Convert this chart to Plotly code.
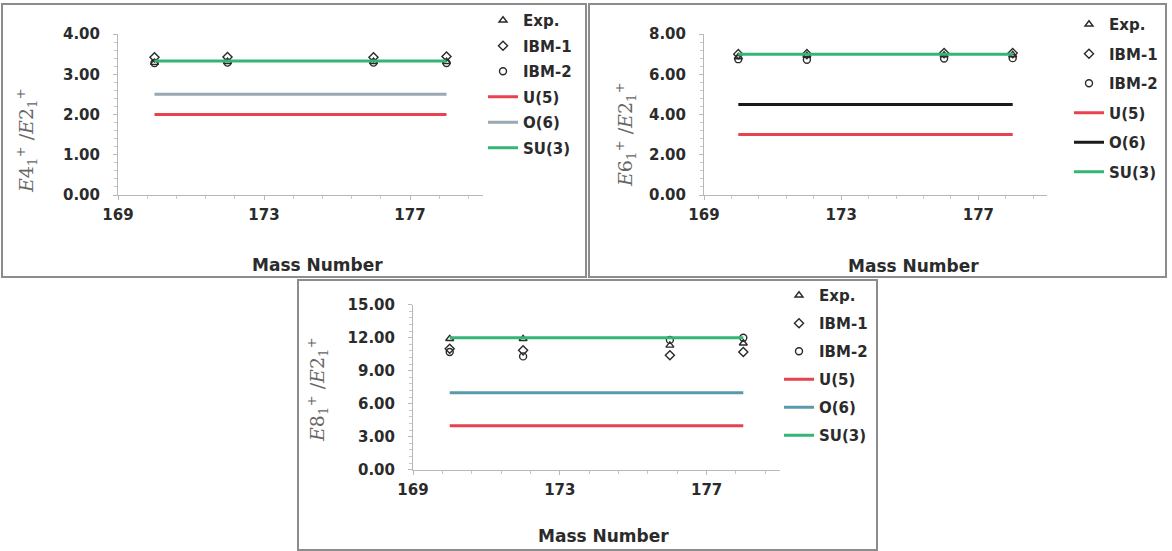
import plotly.graph_objects as go

# Mass numbers of the isotopes
mass = [170, 172, 176, 178]
limit_x = [170, 178]

# E4/E2 ratios
exp_r4 = [3.29, 3.31, 3.31, 3.31]
ibm1_r4 = [3.42, 3.43, 3.42, 3.44]
ibm2_r4 = [3.28, 3.29, 3.29, 3.28]
limits_r4 = {"U(5)": 2.0, "O(6)": 2.5, "SU(3)": 3.33}

# E6/E2 ratios
exp_r6 = [6.86, 6.93, 6.95, 6.96]
ibm1_r6 = [7.00, 7.00, 7.05, 7.05]
ibm2_r6 = [6.75, 6.72, 6.78, 6.80]
limits_r6 = {"U(5)": 3.0, "O(6)": 4.5, "SU(3)": 7.0}

# E8/E2 ratios
exp_r8 = [11.9, 11.9, 11.3, 11.5]
ibm1_r8 = [11.0, 10.85, 10.4, 10.7]
ibm2_r8 = [10.7, 10.3, 11.8, 12.0]
limits_r8 = {"U(5)": 4.0, "O(6)": 7.0, "SU(3)": 12.0}

W, H = 1172, 551
FONT = "DejaVu Sans"
TXT = "#2b2b2b"


def px(x):
    return x / W


def py(y):
    return 1 - y / H


fig = go.Figure()

panels = [
    dict(ax="", leg="legend", exp=exp_r4, i1=ibm1_r4, i2=ibm2_r4, lim=limits_r4,
         o6="#9aa8b1", ymax=4, dt=1, title="<i>E</i>4<sub>1</sub><sup>+</sup> /<i>E</i>2<sub>1</sub><sup>+</sup>",
         xd=[118, 483], yd=[195, 34], ytit=(26, 141), xtit=(317, 265), legpos=(483, 4), gap=3),
    dict(ax="2", leg="legend2", exp=exp_r6, i1=ibm1_r6, i2=ibm2_r6, lim=limits_r6,
         o6="#1a1a1a", ymax=8, dt=2, title="<i>E</i>6<sub>1</sub><sup>+</sup> /<i>E</i>2<sub>1</sub><sup>+</sup>",
         xd=[704, 1047], yd=[195, 34], ytit=(625, 135), xtit=(913, 266), legpos=(1069, 8), gap=7),
    dict(ax="3", leg="legend3", exp=exp_r8, i1=ibm1_r8, i2=ibm2_r8, lim=limits_r8,
         o6="#5a9aaa", ymax=15, dt=3, title="<i>E</i>8<sub>1</sub><sup>+</sup> /<i>E</i>2<sub>1</sub><sup>+</sup>",
         xd=[413, 780], yd=[469.7, 304.7], ytit=(317, 390), xtit=(603, 536), legpos=(779, 279), gap=5.5),
]

line_colors = {"U(5)": "#e8414f", "SU(3)": "#33b673"}
mk_color = "#2a2a2a"

annotations = []
for p in panels:
    xa = "x" + p["ax"]
    ya = "y" + p["ax"]
    for name, vals, sym in [("Exp.", p["exp"], "triangle-up-open"),
                            ("IBM-1", p["i1"], "diamond-open"),
                            ("IBM-2", p["i2"], "circle-open")]:
        fig.add_trace(go.Scatter(
            x=mass, y=vals, mode="markers", name=name, xaxis=xa, yaxis=ya,
            legend=p["leg"], legendgroup=p["leg"] + name,
            marker=dict(symbol=sym, size=7, color=mk_color, line=dict(width=1.4, color=mk_color)),
        ))
    for name, v in p["lim"].items():
        col = p["o6"] if name == "O(6)" else line_colors[name]
        fig.add_trace(go.Scatter(
            x=limit_x, y=[v, v], mode="lines", name=name, xaxis=xa, yaxis=ya,
            legend=p["leg"], legendgroup=p["leg"] + name,
            line=dict(color=col, width=3),
        ))

    axis_common = dict(showgrid=False, zeroline=False, showline=True, linecolor="#b8b8b8",
                       linewidth=1, ticks="outside", ticklen=4, tickcolor="#b8b8b8",
                       tickfont=dict(family=FONT, size=15, color=TXT, weight="bold"))
    fig.update_layout(**{
        "xaxis" + p["ax"]: dict(
            domain=[px(p["xd"][0]), px(p["xd"][1])], range=[169, 179],
            tickvals=[169, 173, 177], anchor=ya, ticklabelstandoff=2,
            minor=dict(dtick=0.8, tick0=169, ticks="outside", ticklen=3, tickcolor="#c8c8c8"),
            **axis_common),
        "yaxis" + p["ax"]: dict(
            domain=[py(p["yd"][0]), py(p["yd"][1])], range=[0, p["ymax"]],
            dtick=p["dt"], tick0=0, tickformat=".2f", anchor=xa, ticklabelstandoff=10,
            minor=dict(dtick=p["dt"] / 5, ticks="outside", ticklen=3, tickcolor="#c8c8c8"),
            **axis_common),
        p["leg"]: dict(
            x=px(p["legpos"][0]), y=py(p["legpos"][1]), xanchor="left", yanchor="top",
            bgcolor="rgba(0,0,0,0)", tracegroupgap=p["gap"], itemwidth=30,
            font=dict(family=FONT, size=15, color=TXT, weight="bold")),
    })

    annotations.append(dict(
        text=p["title"], x=px(p["ytit"][0]), y=py(p["ytit"][1]), xref="paper", yref="paper",
        textangle=-90, showarrow=False, xanchor="center", yanchor="middle",
        font=dict(family="DejaVu Serif", size=19, color="#666666")))
    annotations.append(dict(
        text="<b>Mass Number</b>", x=px(p["xtit"][0]), y=py(p["xtit"][1]), xref="paper", yref="paper",
        showarrow=False, xanchor="center", yanchor="middle",
        font=dict(family=FONT, size=17, color=TXT)))

# Frames around each panel
frames = [(2, 4, 586, 277), (589, 4, 1166, 277), (298, 280, 877, 550)]
shapes = [dict(type="rect", xref="paper", yref="paper", x0=px(a), x1=px(c), y0=py(d), y1=py(b),
               line=dict(color="#8c8c8c", width=2), fillcolor="rgba(0,0,0,0)", layer="below")
          for a, b, c, d in frames]

fig.update_layout(
    width=W, height=H, margin=dict(l=0, r=0, t=0, b=0, autoexpand=False),
    paper_bgcolor="white", plot_bgcolor="white",
    annotations=annotations, shapes=shapes,
)

fig.write_html(
    "out.html",
    post_script="document.body.style.margin='0';document.body.style.overflow='hidden';",
)
